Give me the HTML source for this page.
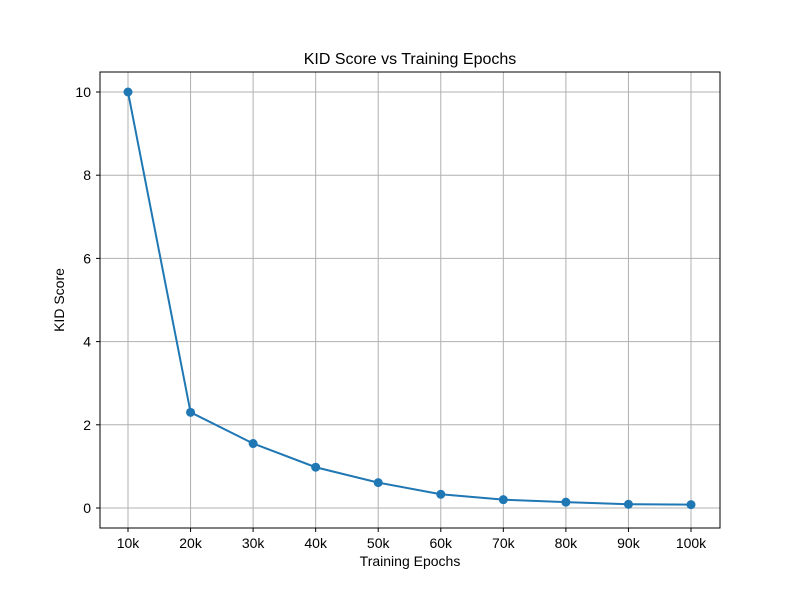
<!DOCTYPE html>
<html><head><meta charset="utf-8"><style>
body{margin:0;background:#fff;}
svg{display:block;font-family:"Liberation Sans","DejaVu Sans",sans-serif;}
</style></head><body>
<svg id="chart" width="800" height="600">
<rect width="800" height="600" fill="#fff"/>
<text x="410" y="64" font-size="16" text-anchor="middle">KID Score vs Training Epochs</text>
<g id="grid"></g>
<g id="ticks"></g>
<g id="series"></g>
<rect x="100" y="72" width="620" height="456" fill="none" stroke="#000" stroke-width="1"/>
<text x="410" y="566" font-size="14" text-anchor="middle">Training Epochs</text>
<text x="0" y="0" font-size="14" text-anchor="middle" transform="translate(64,300) rotate(-90)">KID Score</text>
</svg>
<script>
const categories=["10k","20k","30k","40k","50k","60k","70k","80k","90k","100k"];
const kidValues=[10,2.3,1.55,0.98,0.61,0.33,0.2,0.14,0.09,0.08];
const yTicks=[0,2,4,6,8,10];
const NS="http://www.w3.org/2000/svg";
const x0=128,x1=691;
const xs=i=>x0+(x1-x0)*i/(categories.length-1);
const ys=v=>508-v*41.6;
function mk(tag,attrs,parent){const e=document.createElementNS(NS,tag);for(const k in attrs)e.setAttribute(k,attrs[k]);parent.appendChild(e);return e;}
const grid=document.getElementById('grid'),ticks=document.getElementById('ticks'),series=document.getElementById('series');
categories.forEach((c,i)=>{
  const x=xs(i);
  const g=mk('line',{x1:x,x2:x,y1:72,y2:528,stroke:'#b0b0b0','stroke-width':1},grid);
  
  
  mk('line',{x1:x,x2:x,y1:528,y2:532,stroke:'#000'},ticks);
  const t=mk('text',{x:x,y:548,'font-size':14,'text-anchor':'middle'},ticks);
  t.textContent=c;
  
  
});
yTicks.forEach(v=>{
  const y=ys(v);
  const g=mk('line',{x1:100,x2:720,y1:y,y2:y,stroke:'#b0b0b0','stroke-width':1},grid);
  
  
  mk('line',{x1:96,x2:100,y1:y,y2:y,stroke:'#000'},ticks);
  const t=mk('text',{x:91,y:y+5,'font-size':14,'text-anchor':'end'},ticks);
  t.textContent=v;
  
  
});
const pts=kidValues.map((v,i)=>xs(i)+','+ys(v)).join(' ');
const line=mk('polyline',{points:pts,fill:'none',stroke:'#1f77b4','stroke-width':2},series);


kidValues.forEach((v,i)=>{
  const c=mk('circle',{cx:xs(i),cy:ys(v),r:4.5,fill:'#1f77b4'},series);
  
  
});
</script>
</body></html>
